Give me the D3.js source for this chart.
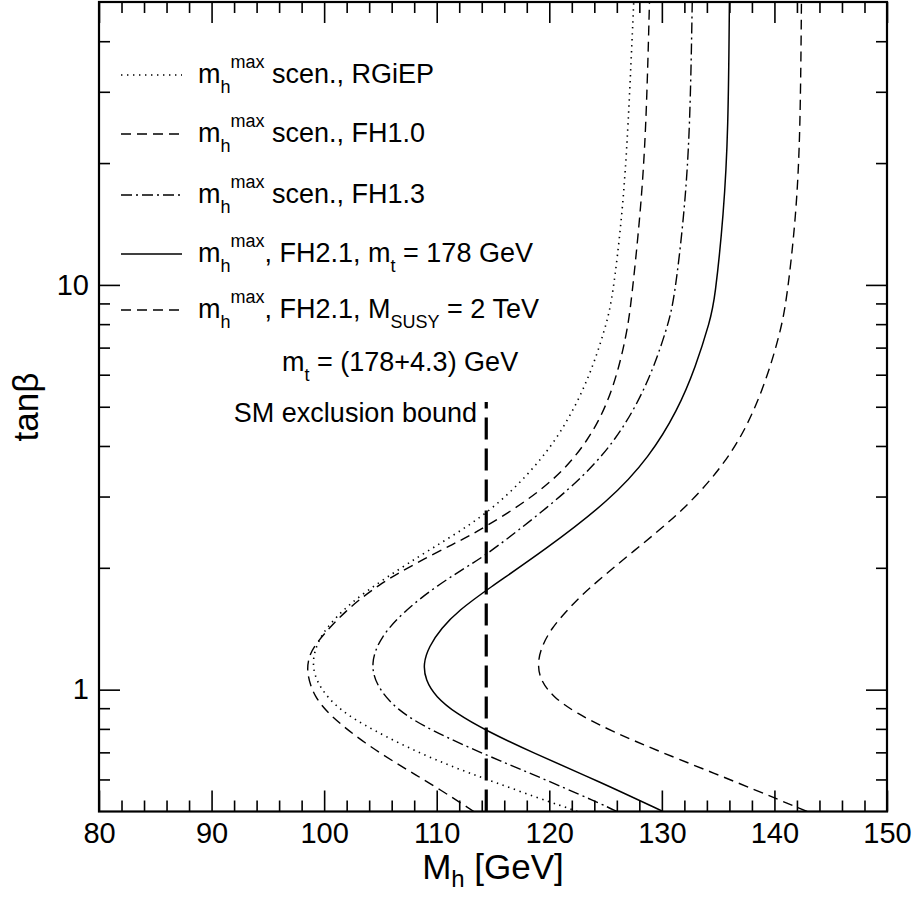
<!DOCTYPE html>
<html><head><meta charset="utf-8">
<script src="https://cdn.jsdelivr.net/npm/d3@7"></script>
<style>body{margin:0;background:#fff}svg{display:block}text{font-family:"Liberation Sans",Arial,sans-serif;fill:#000}</style>
</head><body><svg id="c" width="917" height="898"></svg>
<script>
// [M_h (GeV), tan beta]
const rgiep = [[122.5,0.5],[117.5,0.559],[112.9,0.622],[108.8,0.689],[104.3,0.795],[101.3,0.891],[99.5,1.017],[98.9,1.148],[99.25,1.276],[100.0,1.403],[102.2,1.633],[105.6,1.9],[109.3,2.212],[114.2,2.673],[118.0,3.355],[121.1,4.294],[123.6,5.925],[125.0,7.87],[125.6,9.162],[126.5,15],[127.0,24.1],[127.5,50]];
const fh10 = [[113.3,0.5],[109.9,0.576],[106.9,0.645],[103.6,0.737],[100.6,0.858],[99.1,0.961],[98.45,1.096],[98.6,1.2],[99.2,1.3],[101.9,1.572],[104.9,1.823],[108.0,2.043],[111.6,2.3],[113.9,2.477],[120.0,3.17],[123.6,4.13],[125.7,5.49],[126.9,7.58],[127.3,9.162],[128.1,15],[128.6,24.1],[128.9,50]];
const fh13 = [[126.0,0.5],[124.5,0.524],[118.3,0.622],[114.4,0.689],[109.4,0.795],[106.45,0.891],[104.67,1.017],[104.1,1.161],[105.0,1.351],[107.2,1.572],[110.2,1.823],[113.4,2.069],[115.2,2.234],[122.2,3.17],[126.0,4.134],[128.8,5.705],[130.5,7.87],[131.1,9.162],[132.0,15],[132.5,24.1],[132.7,50]];
const fh21mt = [[130.1,0.5],[124.5,0.592],[118.3,0.703],[114.4,0.792],[111.7,0.874],[109.9,0.961],[109.0,1.056],[108.8,1.16],[109.3,1.276],[110.4,1.419],[112.0,1.572],[114.4,1.762],[119.6,2.213],[125.4,2.938],[128.9,3.758],[131.4,4.898],[133.0,6.266],[134.3,8.185],[134.7,9.162],[135.5,15],[135.9,24.1],[136.0,50]];
const fh21msusy = [[142.9,0.5],[136.9,0.587],[129.4,0.71],[125.5,0.791],[122.4,0.874],[120.3,0.961],[119.2,1.056],[118.95,1.16],[119.3,1.276],[120.2,1.419],[121.6,1.572],[123.3,1.762],[127.6,2.213],[131.6,2.723],[134.9,3.42],[137.3,4.295],[139.2,5.715],[140.5,7.586],[141.1,9.162],[141.95,15],[142.3,24.1],[142.4,50]];
const smBound = [[114.4,0.5],[114.4,5.14]];
const xMajor = [80,90,100,110,120,130,140,150];
const yMajor = [1,10];
const yMinor = [0.6,0.7,0.8,0.9,2,3,4,5,6,7,8,9,20,30,40];

const svg = d3.select("#c");
const L=99,R=887,T=2,B=811.5;
const x = d3.scaleLinear().domain([80,150]).range([L,R]);
const y = d3.scaleLog().domain([0.5,50]).range([B,T]);
const xMinor = d3.range(80,151,2).filter(v=>v%10!==0);

// axes
svg.append("g").attr("transform",`translate(0,${B})`)
  .call(d3.axisBottom(x).tickValues(xMajor).tickSize(-21).tickPadding(11).tickFormat(d3.format("d")));
svg.append("g").attr("transform",`translate(0,${B})`).call(d3.axisBottom(x).tickValues(xMinor).tickSize(-11).tickFormat(""));
svg.append("g").attr("transform",`translate(0,${T})`).call(d3.axisTop(x).tickValues(xMajor).tickSize(-21).tickFormat(""));
svg.append("g").attr("transform",`translate(0,${T})`).call(d3.axisTop(x).tickValues(xMinor).tickSize(-11).tickFormat(""));
svg.append("g").attr("transform",`translate(${L},0)`).call(d3.axisLeft(y).tickValues(yMajor).tickSize(-21).tickPadding(10).tickFormat(d3.format("d")));
svg.append("g").attr("transform",`translate(${L},0)`).call(d3.axisLeft(y).tickValues(yMinor).tickSize(-11).tickFormat(""));
svg.append("g").attr("transform",`translate(${R},0)`).call(d3.axisRight(y).tickValues(yMajor).tickSize(-21).tickFormat(""));
svg.append("g").attr("transform",`translate(${R},0)`).call(d3.axisRight(y).tickValues(yMinor).tickSize(-11).tickFormat(""));
svg.selectAll(".domain").remove();
svg.selectAll(".tick line").attr("stroke","#000").attr("stroke-width",1.6);
svg.selectAll(".tick text").attr("font-size",29).attr("font-family","Liberation Sans, Arial, sans-serif").attr("fill","#000");
svg.append("rect").attr("x",L).attr("y",T).attr("width",R-L).attr("height",B-T).attr("fill","none").attr("stroke","#000").attr("stroke-width",2.2);

// curves
const line = d3.line().x(d=>x(d[0])).y(d=>y(d[1])).curve(d3.curveBasis);
svg.append("clipPath").attr("id","pc").append("rect").attr("x",L).attr("y",T).attr("width",R-L).attr("height",B-T);
const gc = svg.append("g").attr("clip-path","url(#pc)");
const styles = [
  {d:rgiep, dash:"1.4,4.6", w:1.6},
  {d:fh10, dash:"10,6", w:1.4},
  {d:fh13, dash:"11,4,2,4", w:1.4},
  {d:fh21mt, dash:null, w:1.5},
  {d:fh21msusy, dash:"10,6", w:1.4}
];
styles.forEach(s=>{
  gc.append("path").attr("d",line(s.d.slice().sort((a,b)=>a[1]-b[1]))).attr("fill","none").attr("stroke","#000")
    .attr("stroke-width",s.w).attr("stroke-dasharray",s.dash);
});
gc.append("path").attr("d",d3.line().x(d=>x(d[0])).y(d=>y(d[1]))(smBound)).attr("stroke","#000").attr("stroke-width",3.2).attr("stroke-dasharray","22,9").attr("fill","none");

// legend
const legend = [
  {dash:"1.4,4.6", rest:" scen., RGiEP"},
  {dash:"10,6", rest:" scen., FH1.0"},
  {dash:"11,4,2,4", rest:" scen., FH1.3"},
  {dash:null, rest:", FH2.1, m", sub2:"t", rest2:" = 178 GeV"},
  {dash:"10,6", rest:", FH2.1, M", sub2:"SUSY", rest2:" = 2 TeV"}
];
const rowY=[83,142,203,262,318];
legend.forEach((e,i)=>{
  const by=rowY[i];
  svg.append("line").attr("x1",121).attr("x2",182).attr("y1",by-8).attr("y2",by-8).attr("stroke","#000").attr("stroke-width",1.4).attr("stroke-dasharray",e.dash);
  const t=svg.append("text").attr("x",198).attr("y",by).attr("font-size",27);
  t.append("tspan").text("m");
  t.append("tspan").attr("dy",10).attr("font-size",18).text("h");
  t.append("tspan").attr("dy",-25).attr("font-size",18).text("max");
  t.append("tspan").attr("dy",15).text(e.rest);
  if(e.sub2){
    t.append("tspan").attr("dy",10).attr("font-size",18).text(e.sub2);
    t.append("tspan").attr("dy",-10).text(e.rest2);
  }
});
const mt=svg.append("text").attr("x",282).attr("y",371).attr("font-size",27);
mt.append("tspan").text("m");
mt.append("tspan").attr("dy",10).attr("font-size",18).text("t");
mt.append("tspan").attr("dy",-10).text(" = (178+4.3) GeV");
svg.append("text").attr("x",477).attr("y",422).attr("font-size",27).attr("text-anchor","end").text("SM exclusion bound");

// axis titles
svg.append("text").attr("transform","translate(38,407) rotate(-90)").attr("text-anchor","middle").attr("font-size",35).text("tanβ");
const xt=svg.append("text").attr("x",493).attr("y",879).attr("font-size",35).attr("text-anchor","middle");
xt.append("tspan").text("M");
xt.append("tspan").attr("dy",8).attr("font-size",24).text("h");
xt.append("tspan").attr("dy",-8).text(" [GeV]");
</script></body></html>
